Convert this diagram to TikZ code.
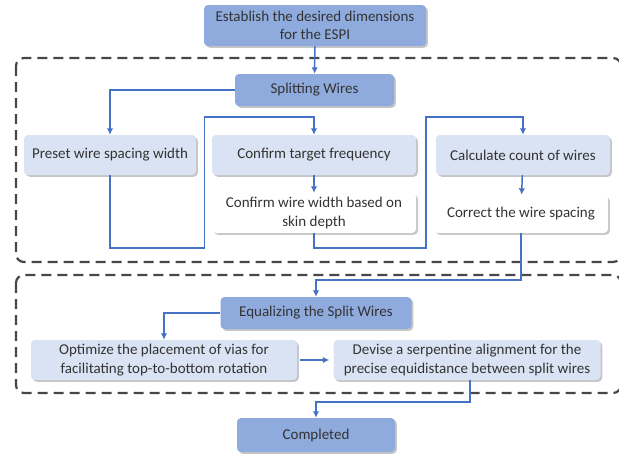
\documentclass[tikz,border=0pt]{standalone}
\usepackage{fontspec}
\setmainfont{Carlito}
\usepackage{tikz}
\usetikzlibrary{arrows.meta, shadows, positioning}
\definecolor{boja1}{HTML}{8FAADC}
\definecolor{boja2}{HTML}{DAE3F3}
\definecolor{boja3}{HTML}{4472C4}
\tikzset{box1/.style={fill=boja1, rounded corners=4pt, align=center, inner sep=2pt,
    text=black!80, drop shadow={shadow xshift=1.8pt, shadow yshift=-1.8pt, opacity=0.45}}}
\tikzset{box2/.style={box1, fill=boja2}}
\tikzset{box3/.style={box1, fill=white}}
\tikzset{arrow1/.style={draw=boja3, line width=1.5pt, ->, >={Latex[length=6.5pt, width=6.5pt]}}}
\tikzset{frame1/.style={draw=black!72, line width=2.2pt, dash pattern=on 10pt off 6pt,
    rounded corners=8pt}}

\begin{document}
\begin{tikzpicture}[x=1pt, y=-1pt, font=\fontsize{15}{18.5}\selectfont]
    \useasboundingbox (0, 0) rectangle (619, 453);
    \clip (0, 0) rectangle (619, 453);

    %okviri
    \draw[frame1] (16, 58) rectangle (621, 262);
    \draw[frame1] (16, 275) rectangle (621, 393);

    %gore
    \node[box1, minimum width=222, minimum height=41] (espi) at (315, 25.5)
        {Establish the desired dimensions\\for the ESPI};
    \node[box1, minimum width=159, minimum height=32] (split) at (314.5, 90) {Splitting Wires};

    %prvi okvir
    \node[box2, minimum width=172, minimum height=40] (preset) at (110, 155) {Preset wire spacing width};
    \node[box2, minimum width=204, minimum height=40] (freq) at (314, 155) {Confirm target frequency};
    \node[box2, minimum width=174, minimum height=40] (count) at (523, 155) {Calculate count of wires};
    \node[box3, minimum width=204, minimum height=40] (width) at (314, 213)
        {Confirm wire width based on\\skin depth};
    \node[box3, minimum width=174, minimum height=38] (correct) at (521, 214) {Correct the wire spacing};

    %drugi okvir
    \node[box1, minimum width=191, minimum height=32] (equal) at (316, 313) {Equalizing the Split Wires};
    \node[box2, minimum width=266, minimum height=40] (vias) at (164, 360)
        {Optimize the placement of vias for\\facilitating top-to-bottom rotation};
    \node[box2, minimum width=267, minimum height=40] (serp) at (467, 360)
        {Devise a serpentine alignment for the\\precise equidistance between split wires};

    %kraj
    \node[box1, minimum width=158, minimum height=34] (done) at (316, 435) {Completed};

    %strelice
    \draw[arrow1] (espi) -- (split);
    \draw[arrow1] (split.west) -| (preset.north);
    \draw[arrow1] (preset.south) -- ++(0, 73) -| (204.5, 117) -| (freq.north);
    \draw[arrow1] (freq) -- (width);
    \draw[arrow1] (width.south) -- ++(0, 15) -| (426, 117) -| (count.north);
    \draw[arrow1] (count) -- (correct);
    \draw[arrow1] (correct.south) -- ++(0, 47) -| (equal.north);
    \draw[arrow1] (equal.west) -| (vias.north);
    \draw[arrow1, shorten <=3pt, shorten >=4pt] (vias) -- (serp);
    \draw[arrow1] ([xshift=3pt]serp.south) -- ++(0, 22) -| (done.north);
\end{tikzpicture}
\end{document}
